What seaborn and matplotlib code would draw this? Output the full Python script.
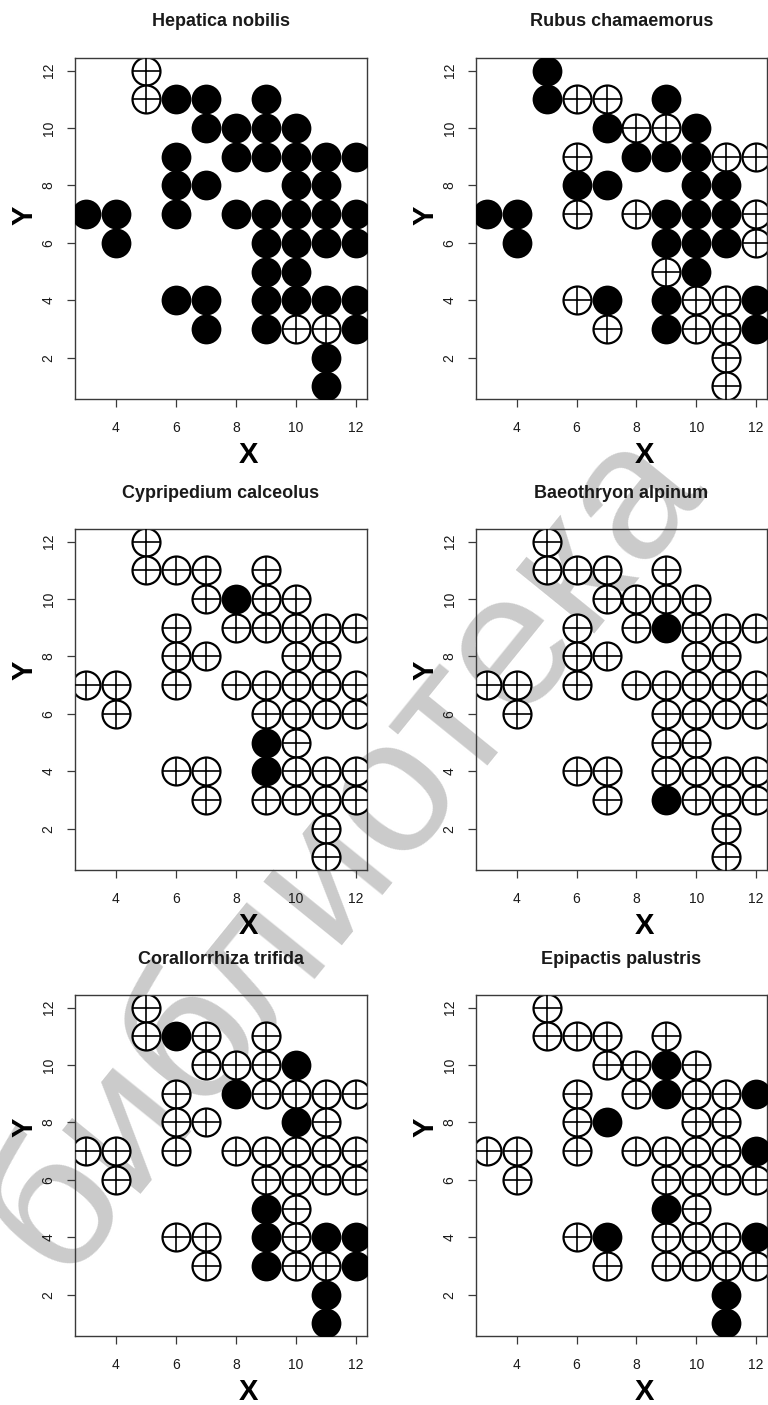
import numpy as np
import pandas as pd
import matplotlib
matplotlib.use("Agg")
import matplotlib.pyplot as plt
import seaborn as sns

# Surveyed grid cells, listed row by row from the top (Y = 12) down to Y = 1
grid_x = [5,
          5, 6, 7, 9,
          7, 8, 9, 10,
          6, 8, 9, 10, 11, 12,
          6, 7, 10, 11,
          3, 4, 6, 8, 9, 10, 11, 12,
          4, 9, 10, 11, 12,
          9, 10,
          6, 7, 9, 10, 11, 12,
          7, 9, 10, 11, 12,
          11,
          11]
grid_y = [12,
          11, 11, 11, 11,
          10, 10, 10, 10,
          9, 9, 9, 9, 9, 9,
          8, 8, 8, 8,
          7, 7, 7, 7, 7, 7, 7, 7,
          6, 6, 6, 6, 6,
          5, 5,
          4, 4, 4, 4, 4, 4,
          3, 3, 3, 3, 3,
          2,
          1]

# Presence (1) / absence (0) of each species in the cells above, same order
hepatica_nobilis = [0,
                    0, 1, 1, 1,
                    1, 1, 1, 1,
                    1, 1, 1, 1, 1, 1,
                    1, 1, 1, 1,
                    1, 1, 1, 1, 1, 1, 1, 1,
                    1, 1, 1, 1, 1,
                    1, 1,
                    1, 1, 1, 1, 1, 1,
                    1, 1, 0, 0, 1,
                    1,
                    1]
rubus_chamaemorus = [1,
                     1, 0, 0, 1,
                     1, 0, 0, 1,
                     0, 1, 1, 1, 0, 0,
                     1, 1, 1, 1,
                     1, 1, 0, 0, 1, 1, 1, 0,
                     1, 1, 1, 1, 0,
                     0, 1,
                     0, 1, 1, 0, 0, 1,
                     0, 1, 0, 0, 1,
                     0,
                     0]
cypripedium_calceolus = [0,
                         0, 0, 0, 0,
                         0, 1, 0, 0,
                         0, 0, 0, 0, 0, 0,
                         0, 0, 0, 0,
                         0, 0, 0, 0, 0, 0, 0, 0,
                         0, 0, 0, 0, 0,
                         1, 0,
                         0, 0, 1, 0, 0, 0,
                         0, 0, 0, 0, 0,
                         0,
                         0]
baeothryon_alpinum = [0,
                      0, 0, 0, 0,
                      0, 0, 0, 0,
                      0, 0, 1, 0, 0, 0,
                      0, 0, 0, 0,
                      0, 0, 0, 0, 0, 0, 0, 0,
                      0, 0, 0, 0, 0,
                      0, 0,
                      0, 0, 0, 0, 0, 0,
                      0, 1, 0, 0, 0,
                      0,
                      0]
corallorrhiza_trifida = [0,
                         0, 1, 0, 0,
                         0, 0, 0, 1,
                         0, 1, 0, 0, 0, 0,
                         0, 0, 1, 0,
                         0, 0, 0, 0, 0, 0, 0, 0,
                         0, 0, 0, 0, 0,
                         1, 0,
                         0, 0, 1, 0, 1, 1,
                         0, 1, 0, 0, 1,
                         1,
                         1]
epipactis_palustris = [0,
                       0, 0, 0, 0,
                       0, 0, 1, 0,
                       0, 0, 1, 0, 0, 1,
                       0, 1, 0, 0,
                       0, 0, 0, 0, 0, 0, 0, 1,
                       0, 0, 0, 0, 0,
                       1, 0,
                       0, 1, 0, 0, 0, 1,
                       0, 0, 0, 0, 0,
                       1,
                       1]

species_names = ["Hepatica nobilis", "Rubus chamaemorus",
                 "Cypripedium calceolus", "Baeothryon alpinum",
                 "Corallorrhiza trifida", "Epipactis palustris"]
species_presence = [hepatica_nobilis, rubus_chamaemorus,
                    cypripedium_calceolus, baeothryon_alpinum,
                    corallorrhiza_trifida, epipactis_palustris]

x_ticks = [4, 6, 8, 10, 12]
y_ticks = [2, 4, 6, 8, 10, 12]

sns.set_style("ticks")
plt.rcParams["font.family"] = ["Liberation Sans", "DejaVu Sans"]

W, H = 768, 1405
fig = plt.figure(figsize=(W / 100, H / 100), dpi=100)
fig.patch.set_facecolor("white")

ink = "#1a1a1a"
frame = "#3a3a3a"

# panel geometry in pixels
col_left = [75, 476]
col_width = [292, 291]
row_top = [58, 529, 995]
panel_h = 341
ylab_frac = [0.54, 0.587, 0.613]
xlab_frac = [0.595, 0.578]

# library watermark behind the panels
fig.text(345 / W, 1 - 850 / H, "библиотека", rotation=51,
         ha="center", va="center", fontsize=138, color="#cbcbcb",
         family=["Liberation Sans", "DejaVu Sans"], zorder=-5)

for i, (name, pres) in enumerate(zip(species_names, species_presence)):
    r, c = divmod(i, 2)
    left = col_left[c] / W
    bottom = 1 - (row_top[r] + panel_h) / H
    ax = fig.add_axes([left, bottom, col_width[c] / W, panel_h / H])
    ax.set_facecolor("none")

    df = pd.DataFrame({"X": grid_x, "Y": grid_y, "present": pres})
    absent = df[df["present"] == 0]
    found = df[df["present"] == 1]

    # absent cells: open circle with a cross
    sns.scatterplot(data=absent, x="X", y="Y", ax=ax, marker="o", s=405,
                    facecolor="white", edgecolor="black", linewidth=1.6,
                    zorder=2, legend=False)
    sns.scatterplot(data=absent, x="X", y="Y", ax=ax, marker="+", s=405,
                    color="black", linewidth=1.2, zorder=3, legend=False)
    # occupied cells: solid circle
    sns.scatterplot(data=found, x="X", y="Y", ax=ax, marker="o", s=460,
                    color="black", edgecolor="black", linewidth=0,
                    zorder=4, legend=False)

    ax.set_xlim(2.64, 12.36)
    ax.set_ylim(0.56, 12.44)
    ax.set_xticks(x_ticks)
    ax.set_yticks(y_ticks)
    ax.set_xticklabels([str(v) for v in x_ticks])
    ax.set_yticklabels([str(v) for v in y_ticks], rotation=90, va="center")

    for sp in ax.spines.values():
        sp.set_visible(True)
        sp.set_color(frame)
        sp.set_linewidth(1.0)
    ax.tick_params(axis="both", direction="out", length=6, width=0.9,
                   color=frame, labelsize=10, labelcolor=ink)
    ax.tick_params(axis="x", pad=10)
    ax.tick_params(axis="y", pad=8)

    ax.set_xlabel("X", fontsize=21, fontweight="bold", color="black", va="center")
    ax.xaxis.set_label_coords(xlab_frac[c], -56 / panel_h)
    ax.set_ylabel("Y", fontsize=21, fontweight="bold", color="black", va="center")
    ax.yaxis.set_label_coords(-50 / col_width[c], ylab_frac[r])

    ax.text(0.5, 1 + 36 / panel_h, name, transform=ax.transAxes,
            ha="center", va="center", fontsize=13, fontweight="bold",
            color=ink)

fig.savefig("out.png", dpi=100, facecolor="white")
